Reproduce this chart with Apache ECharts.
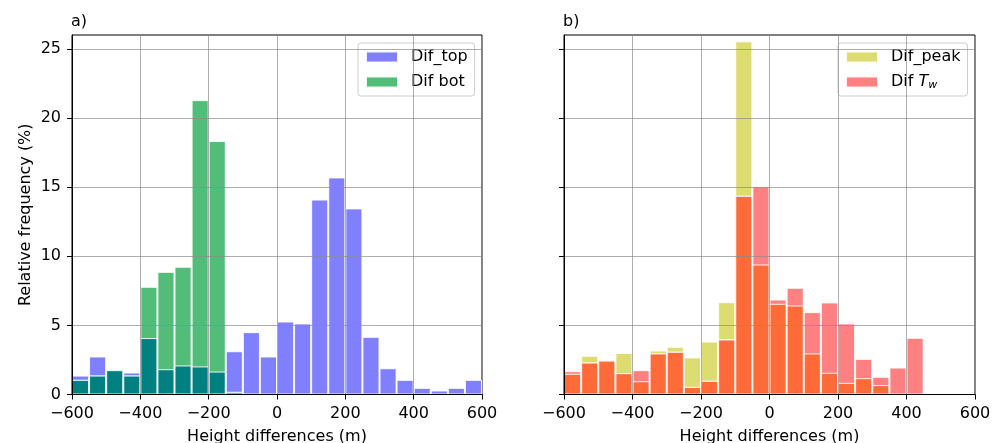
<!DOCTYPE html>
<html>
<head>
<meta charset="utf-8">
<script src="https://cdn.jsdelivr.net/npm/echarts@6/dist/echarts.min.js"></script>
<style>html,body{margin:0;padding:0;background:#fff;}#chart{width:1000px;height:443px;}</style>
</head>
<body>
<div id="chart"></div>
<script>
// Bin starts (m), bin width 50
const binStarts = [-600,-550,-500,-450,-400,-350,-300,-250,-200,-150,-100,-50,0,50,100,150,200,250,300,350,400,450,500,550];
// Panel a)
const difTop  = [1.37,2.75,1.76,1.59,4.08,1.83,2.10,2.03,1.66,3.13,4.51,2.75,5.28,5.14,14.10,15.70,13.46,4.17,1.90,1.06,0.48,0.29,0.48,1.06];
const difBot  = [1.06,1.37,1.76,1.37,7.79,8.87,9.24,21.29,18.33,0.19,0,0,0,0,0,0,0,0,0,0,0,0,0,0];
// Panel b)
const difPeak = [1.50,2.80,2.45,3.01,0.96,3.18,3.45,2.68,3.83,6.68,25.54,9.40,6.56,6.44,2.97,1.57,0.84,1.18,0.68,0,0,0,0,0];
const difTw   = [1.69,2.31,2.50,1.54,1.76,2.97,3.09,0.55,0.99,3.98,14.37,15.07,6.87,7.72,5.96,6.66,5.14,2.58,1.28,1.95,4.10,0.07,0,0];
// Axis ticks
const xTicks = [-600,-400,-200,0,200,400,600];
const yTicks = [0,5,10,15,20,25];

const overlapA = difTop.map((v,i)=>Math.min(v,difBot[i]));
const overlapB = difPeak.map((v,i)=>Math.min(v,difTw[i]));
const cats = binStarts.map(String);

const FONT = 'DejaVu Sans';
const FS = 16;
const fmtMinus = v => String(v).replace('-', '\u2212');
const gridLine = {show:true, lineStyle:{color:'rgba(140,140,140,0.7)', width:1}};

function xAxes(gi){
  return [
    {type:'category', gridIndex:gi, data:cats, show:false, position:'top', boundaryGap:true},
    {type:'value', gridIndex:gi, position:'bottom', min:xTicks[0], max:xTicks[xTicks.length-1], interval:200, z:5,
     axisLine:{show:true, onZero:false, lineStyle:{color:'#000', width:1}},
     axisTick:{show:true, length:5, lineStyle:{color:'#000'}},
     axisLabel:{show:true, fontSize:FS, color:'#000', fontFamily:FONT, margin:11, formatter:fmtMinus},
     splitLine:gridLine,
     name:'Height differences (m)', nameLocation:'middle', nameGap:34,
     nameTextStyle:{fontSize:FS, color:'#000', fontFamily:FONT}}
  ];
}
function yAxis(gi, showLabels){
  const a = {type:'value', gridIndex:gi, position:'left', min:0, max:26, z:5,
    axisLine:{show:true, onZero:false, lineStyle:{color:'#000', width:1}},
    axisTick:{show:true, length:5, customValues:yTicks, lineStyle:{color:'#000'}},
    axisLabel:{show:showLabels, customValues:yTicks, fontSize:FS, color:'#000', fontFamily:FONT, margin:11},
    splitLine:gridLine};
  if (showLabels){
    a.name = 'Relative frequency (%)'; a.nameLocation='middle'; a.nameGap=38;
    a.nameTextStyle = {fontSize:FS, color:'#000', fontFamily:FONT};
  }
  return a;
}
function bar(name, data, color, xi, yi, z){
  return {type:'bar', name:name, data:data, xAxisIndex:xi, yAxisIndex:yi, barWidth:'100%', barGap:'-100%',
    z:z, silent:true, animation:false,
    itemStyle:{color:color, borderColor:'rgba(255,255,255,0.9)', borderWidth:1}};
}
const legendBase = {orient:'vertical', top:43, itemWidth:32, itemHeight:11, itemGap:7, icon:'rect',
  padding:[5,7,5,7], borderColor:'#cccccc', borderWidth:1, borderRadius:3, backgroundColor:'rgba(255,255,255,0.85)',
  selectedMode:false,
  textStyle:{fontSize:FS, color:'#000', fontFamily:FONT, lineHeight:18, padding:[0,0,0,8],
    rich:{it:{fontSize:FS, fontStyle:'italic', fontFamily:FONT, color:'#000'},
          sub:{fontSize:11, fontStyle:'italic', fontFamily:FONT, color:'#000', padding:[7,0,0,0]}}}};

const chart = echarts.init(document.getElementById('chart'), null, {renderer:'canvas'});
chart.setOption({
  animation:false,
  backgroundColor:'#fff',
  textStyle:{fontFamily:FONT},
  title:[
    {text:'a)', left:71, top:14, padding:0, textStyle:{fontSize:FS, fontWeight:'normal', color:'#000', fontFamily:FONT}},
    {text:'b)', left:563, top:14, padding:0, textStyle:{fontSize:FS, fontWeight:'normal', color:'#000', fontFamily:FONT}}
  ],
  grid:[
    {left:72, top:35, width:410, height:359.5, show:true, borderColor:'#000', borderWidth:1, backgroundColor:'#fff', outerBoundsMode:'none'},
    {left:564, top:35, width:411, height:359.5, show:true, borderColor:'#000', borderWidth:1, backgroundColor:'#fff', outerBoundsMode:'none'}
  ],
  legend:[
    Object.assign({}, legendBase, {left:358, data:['Dif_top','Dif bot']}),
    Object.assign({}, legendBase, {left:838, data:['Dif_peak','Dif Tw'],
      formatter: n => n === 'Dif Tw' ? 'Dif {it|T}{sub|w}' : n})
  ],
  xAxis:[...xAxes(0), ...xAxes(1)],
  yAxis:[yAxis(0,true), yAxis(1,false)],
  series:[
    bar('Dif_top', difTop, '#8080ff', 0, 0, 2),
    bar('Dif bot', difBot, '#52bd78', 0, 0, 2),
    bar('overlapA', overlapA, '#008080', 0, 0, 3),
    bar('Dif_peak', difPeak, '#dcdc70', 2, 1, 2),
    bar('Dif Tw', difTw, '#ff8080', 2, 1, 2),
    bar('overlapB', overlapB, '#ff6b38', 2, 1, 3)
  ]
});
</script>
</body>
</html>
